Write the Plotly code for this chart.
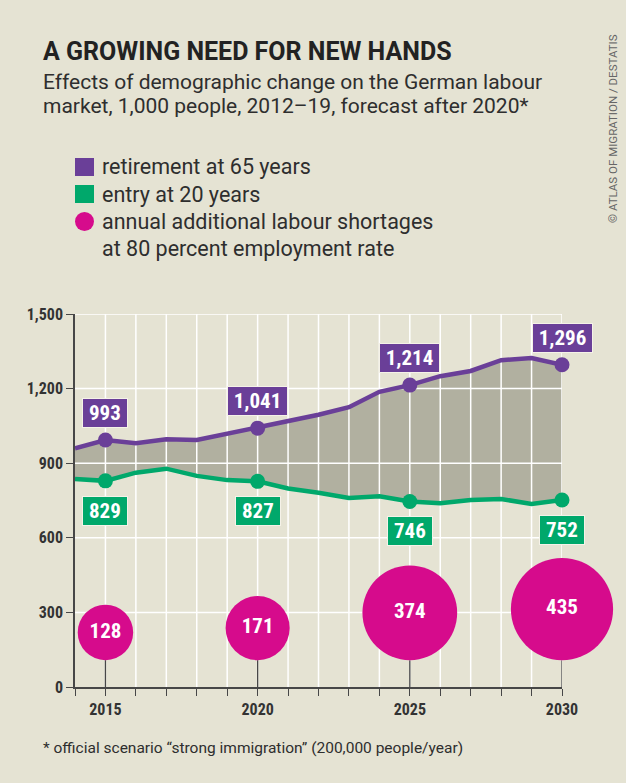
import numpy as np
import plotly.graph_objects as go

# data (1,000 people)
years = list(range(2014, 2031))
retirement = [960, 993, 980, 996, 993, 1018, 1041, 1068, 1095, 1125, 1187, 1214, 1250, 1271, 1314, 1323, 1296]
entry = [836, 829, 862, 878, 849, 832, 827, 798, 781, 760, 767, 746, 739, 752, 756, 736, 752]
label_years = [2015, 2020, 2025, 2030]
shortage = [128, 171, 374, 435]
y_ticks = [0, 300, 600, 900, 1200, 1500]

BG = "#e5e3d3"
FILL = "#b1b0a0"
PURPLE = "#6a3f98"
GREEN = "#00a86b"
MAGENTA = "#d60b8c"
DARK = "#333333"
AXIS = "#474747"
TEXT = "#2e2e2e"
FONT = "Roboto, DejaVu Sans, sans-serif"
NARROW = "Roboto Condensed, DejaVu Sans Condensed, sans-serif"

W, H = 626, 783
L, R, T, B = 75, 64, 314, 96
plot_w = W - L - R
plot_h = H - T - B
units_per_px = (y_ticks[-1] - y_ticks[0]) / plot_h

def px_x(px):
    return (px - L) / plot_w

def px_y(py):
    return (H - B - py) / plot_h

def box_width(s):
    # rough text width for the value boxes
    return 10.6 * sum(c.isdigit() for c in s) + 4.6 * s.count(",") + 8

idx = [years.index(y) for y in label_years]
ret_lab = [retirement[i] for i in idx]
ent_lab = [entry[i] for i in idx]

# bubbles: area ~ value, all sitting on a common baseline
BUBBLE_SCALE = 4.9
BUBBLE_BASE = 108
diam = [BUBBLE_SCALE * np.sqrt(v) for v in shortage]
bub_y = [BUBBLE_BASE + d / 2 * units_per_px for d in diam]

fig = go.Figure()

# gray band between the two series
fig.add_trace(go.Scatter(x=years, y=entry, mode="lines", line=dict(width=0), hoverinfo="skip"))
fig.add_trace(go.Scatter(x=years, y=retirement, mode="lines", line=dict(width=0),
                         fill="tonexty", fillcolor=FILL, hoverinfo="skip"))

# white grid drawn over the band
gx, gy = [], []
for yr in years[1:]:
    gx += [yr, yr, None]
    gy += [y_ticks[0], y_ticks[-1], None]
for t in y_ticks[1:]:
    gx += [years[0], years[-1], None]
    gy += [t, t, None]
fig.add_trace(go.Scatter(x=gx, y=gy, mode="lines", line=dict(color="white", width=1.5),
                         hoverinfo="skip"))

# stems under the bubbles
sx, sy = [], []
for yr in label_years:
    sx += [yr, yr, None]
    sy += [0, BUBBLE_BASE, None]
fig.add_trace(go.Scatter(x=sx, y=sy, mode="lines", line=dict(color=AXIS, width=1.3),
                         hoverinfo="skip"))

fig.add_trace(go.Scatter(x=years, y=retirement, mode="lines", line=dict(color=PURPLE, width=4.5),
                         cliponaxis=False))
fig.add_trace(go.Scatter(x=years, y=entry, mode="lines", line=dict(color=GREEN, width=4.5),
                         cliponaxis=False))
fig.add_trace(go.Scatter(x=label_years, y=ret_lab, mode="markers",
                         marker=dict(color=PURPLE, size=15), cliponaxis=False))
fig.add_trace(go.Scatter(x=label_years, y=ent_lab, mode="markers",
                         marker=dict(color=GREEN, size=15), cliponaxis=False))

fig.add_trace(go.Scatter(
    x=label_years, y=bub_y, mode="markers+text",
    marker=dict(color=MAGENTA, size=diam, sizemode="diameter", opacity=1,
                line=dict(width=0)),
    text=[f"<b>{v}</b>" for v in shortage], textposition="middle center",
    textfont=dict(color="white", size=21, family=NARROW), cliponaxis=False))

ann = []
for yr, v in zip(label_years, ret_lab):
    s = f"{v:,}"
    ann.append(dict(x=yr, y=v, text=f"<b>{s}</b>", showarrow=False, yshift=27, width=box_width(s),
                    bgcolor=PURPLE, bordercolor="#f5f2e8", borderwidth=1, borderpad=2,
                    font=dict(color="white", size=21, family=NARROW)))
for yr, v in zip(label_years, ent_lab):
    s = f"{v:,}"
    ann.append(dict(x=yr, y=v, text=f"<b>{s}</b>", showarrow=False, yshift=-30, width=box_width(s),
                    bgcolor=GREEN, bordercolor="#f5f2e8", borderwidth=1, borderpad=2,
                    font=dict(color="white", size=21, family=NARROW)))

# headings
ann.append(dict(xref="paper", yref="paper", x=px_x(41), y=px_y(51), xanchor="left", yanchor="middle",
                text="<b>A GROWING NEED FOR NEW HANDS</b>", showarrow=False,
                font=dict(size=25, color="#222222", family=FONT)))
sub_lines = [("Effects of demographic change on the German labour", 82),
             ("market, 1,000 people, 2012–19, forecast after 2020*", 106)]
for txt, cy in sub_lines:
    ann.append(dict(xref="paper", yref="paper", x=px_x(41), y=px_y(cy), xanchor="left",
                    yanchor="middle", text=txt, showarrow=False,
                    font=dict(size=21, color=TEXT, family=FONT)))

# legend
legend_items = [("retirement at 65 years", 167),
                ("entry at 20 years", 194),
                ("annual additional labour shortages", 221),
                ("at 80 percent employment rate", 248)]
for txt, cy in legend_items:
    ann.append(dict(xref="paper", yref="paper", x=px_x(100), y=px_y(cy), xanchor="left",
                    yanchor="middle", text=txt, showarrow=False,
                    font=dict(size=21.5, color=TEXT, family=FONT)))
shapes = [
    dict(type="rect", xref="paper", yref="paper", x0=px_x(75), x1=px_x(94), y0=px_y(176), y1=px_y(158),
         fillcolor=PURPLE, line=dict(width=0)),
    dict(type="rect", xref="paper", yref="paper", x0=px_x(75), x1=px_x(94), y0=px_y(203), y1=px_y(185),
         fillcolor=GREEN, line=dict(width=0)),
    dict(type="circle", xref="paper", yref="paper", x0=px_x(75), x1=px_x(94), y0=px_y(231), y1=px_y(212),
         fillcolor=MAGENTA, line=dict(width=0)),
]

ann.append(dict(xref="paper", yref="paper", x=px_x(41), y=px_y(748), xanchor="left", yanchor="middle",
                text="* official scenario “strong immigration” (200,000 people/year)", showarrow=False,
                font=dict(size=15.5, color=TEXT, family=FONT)))
ann.append(dict(xref="paper", yref="paper", x=px_x(613), y=px_y(129), xanchor="center", yanchor="middle",
                text="© ATLAS OF MIGRATION / DESTATIS", textangle=-90, showarrow=False,
                font=dict(size=11.5, color="#666666", family=FONT)))

fig.update_layout(
    width=W, height=H, margin=dict(l=L, r=R, t=T, b=B),
    paper_bgcolor=BG, plot_bgcolor=BG, showlegend=False,
    annotations=ann, shapes=shapes,
    font=dict(family=FONT, color=DARK),
)
fig.update_xaxes(range=[years[0], years[-1]], showgrid=False, zeroline=False,
                 showline=True, linecolor=AXIS, linewidth=1.5,
                 tickmode="array", tickvals=years,
                 ticktext=[f"<b>{y}</b>" if y in label_years else "" for y in years],
                 ticks="outside", ticklen=7, tickcolor=AXIS, tickwidth=1.2,
                 tickfont=dict(size=16, color=DARK, family=NARROW))
fig.update_yaxes(range=[y_ticks[0], y_ticks[-1]], showgrid=False, zeroline=False,
                 showline=True, linecolor=AXIS, linewidth=1.5,
                 tickmode="array", tickvals=y_ticks,
                 ticktext=[f"<b>{t:,}</b>" for t in y_ticks],
                 ticks="outside", ticklen=7, tickcolor=AXIS, tickwidth=1.2,
                 tickfont=dict(size=16, color=DARK, family=NARROW))

fig.write_html("out.html", config={"displayModeBar": False},
               post_script="document.body.style.margin='0';")
